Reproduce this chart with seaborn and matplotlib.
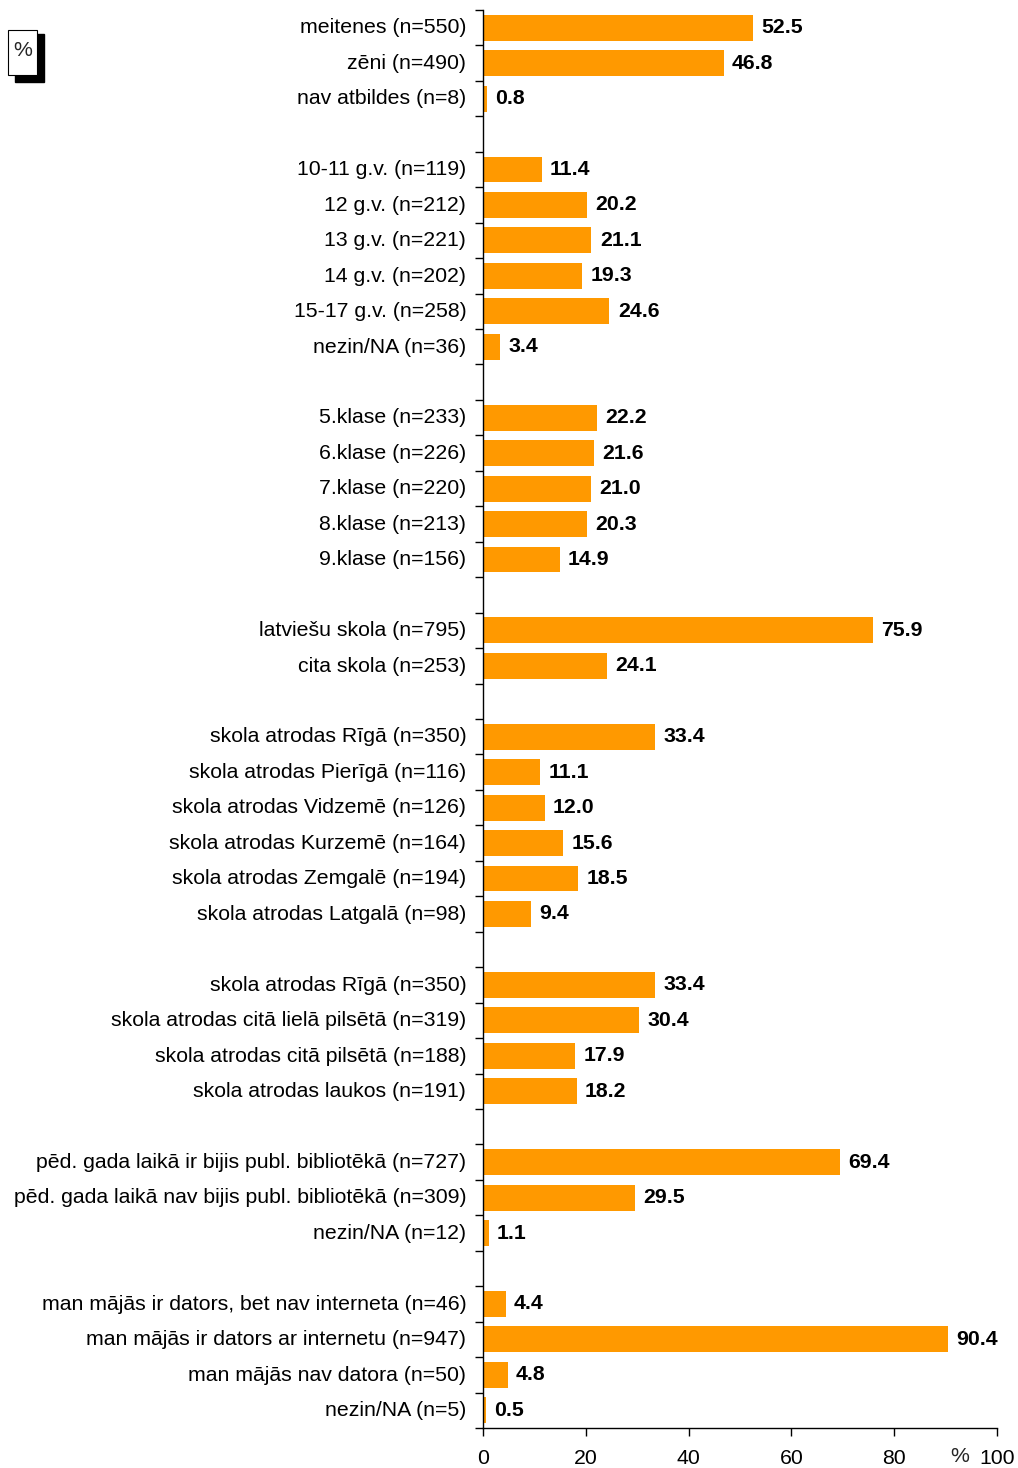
import numpy as np
import pandas as pd
import matplotlib
matplotlib.use("Agg")
import matplotlib.pyplot as plt
import seaborn as sns
from matplotlib.patches import Rectangle

sns.set_theme(style="white")
plt.rcParams['font.family'] = ['Liberation Sans', 'DejaVu Sans']

labels = [
    "meitenes (n=550)", "zēni (n=490)", "nav atbildes (n=8)", "",
    "10-11 g.v. (n=119)", "12 g.v. (n=212)", "13 g.v. (n=221)", "14 g.v. (n=202)",
    "15-17 g.v. (n=258)", "nezin/NA (n=36)", "",
    "5.klase (n=233)", "6.klase (n=226)", "7.klase (n=220)", "8.klase (n=213)",
    "9.klase (n=156)", "",
    "latviešu skola (n=795)", "cita skola (n=253)", "",
    "skola atrodas Rīgā (n=350)", "skola atrodas Pierīgā (n=116)",
    "skola atrodas Vidzemē (n=126)", "skola atrodas Kurzemē (n=164)",
    "skola atrodas Zemgalē (n=194)", "skola atrodas Latgalā (n=98)", "",
    "skola atrodas Rīgā (n=350)", "skola atrodas citā lielā pilsētā (n=319)",
    "skola atrodas citā pilsētā (n=188)", "skola atrodas laukos (n=191)", "",
    "pēd. gada laikā ir bijis publ. bibliotēkā (n=727)",
    "pēd. gada laikā nav bijis publ. bibliotēkā (n=309)", "nezin/NA (n=12)", "",
    "man mājās ir dators, bet nav interneta (n=46)",
    "man mājās ir dators ar internetu (n=947)", "man mājās nav datora (n=50)",
    "nezin/NA (n=5)",
]
values = [
    52.5, 46.8, 0.8, np.nan,
    11.4, 20.2, 21.1, 19.3, 24.6, 3.4, np.nan,
    22.2, 21.6, 21.0, 20.3, 14.9, np.nan,
    75.9, 24.1, np.nan,
    33.4, 11.1, 12.0, 15.6, 18.5, 9.4, np.nan,
    33.4, 30.4, 17.9, 18.2, np.nan,
    69.4, 29.5, 1.1, np.nan,
    4.4, 90.4, 4.8, 0.5,
]
x_ticks = [0, 20, 40, 60, 80, 100]

keys = [f"r{i}" for i in range(len(labels))]
df = pd.DataFrame({"key": keys, "value": values})

FS = 15.3
W, H = 1018, 1468
fig = plt.figure(figsize=(W / 100, H / 100), dpi=100)
ax = fig.add_axes([483 / W, 1 - 1428 / H, (997 - 483) / W, (1428 - 10) / H])

sns.barplot(data=df, x="value", y="key", order=keys, orient="h",
            color="#FF9900", saturation=1, width=0.73, ax=ax, edgecolor="none")

n = len(labels)
ax.set_ylim(n - 0.5, -0.5)
ax.set_xlim(0, 100)

for s in ["top", "right"]:
    ax.spines[s].set_visible(False)
for s in ["left", "bottom"]:
    ax.spines[s].set_color("black")
    ax.spines[s].set_linewidth(1)

# major ticks at row boundaries, labels at centers (minor)
ax.set_yticks(np.arange(-0.5, n, 1.0))
ax.set_yticklabels([])
ax.set_yticks(np.arange(n) - 0.05, labels=labels, minor=True)
ax.tick_params(axis="y", which="major", direction="out", length=6, width=1, color="black", left=True)
ax.tick_params(axis="y", which="minor", length=0, pad=12, labelsize=FS, labelcolor="black")
ax.set_ylabel("")
ax.set_xlabel("")

ax.set_xticks(x_ticks, labels=[str(t) for t in x_ticks])
ax.tick_params(axis="x", direction="out", length=6, width=1, color="black", bottom=True,
               pad=9, labelsize=FS, labelcolor="black")
ax.text(92.8, -0.0135, "%", transform=ax.get_xaxis_transform(), ha="center", va="top",
        fontsize=FS)

for i, v in enumerate(values):
    if not np.isnan(v):
        ax.annotate(f"{v:.1f}", (v, i), xytext=(6, 0), textcoords="offset points",
                    ha="left", va="center", fontsize=FS, fontweight="bold", color="black")

# % box with shadow
fig.patches.append(Rectangle((15 / W, 1 - 82 / H), 29 / W, 48 / H, transform=fig.transFigure,
                             facecolor="black", edgecolor="black", zorder=1))
fig.patches.append(Rectangle((8 / W, 1 - 75 / H), 29 / W, 45 / H, transform=fig.transFigure,
                             facecolor="white", edgecolor="black", linewidth=0.8, zorder=2))
fig.text(22.5 / W, 1 - 51 / H, "%", ha="center", va="center", fontsize=FS, zorder=3)

fig.savefig("out.png", dpi=100)
